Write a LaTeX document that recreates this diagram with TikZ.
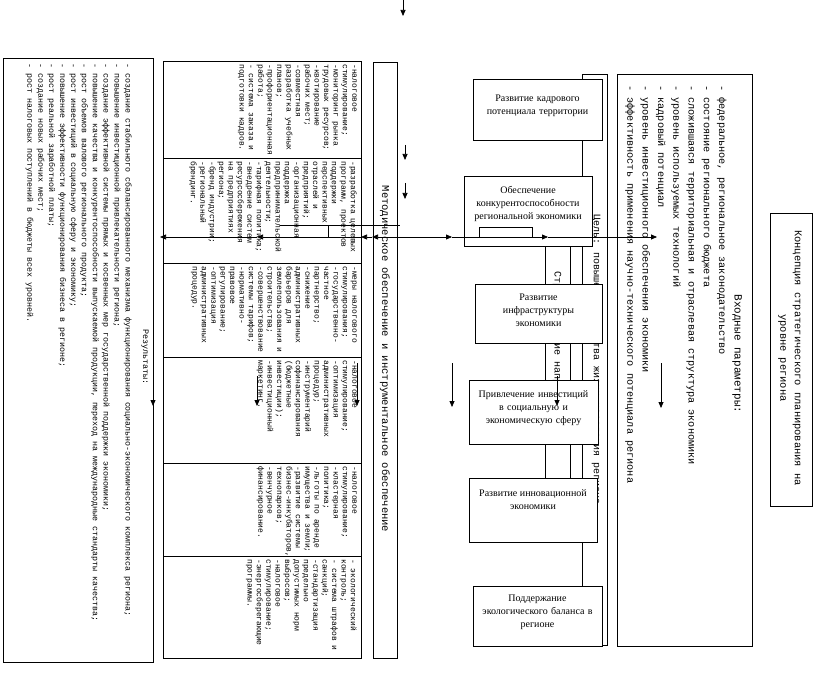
\documentclass[tikz,border=0pt]{standalone}
\usepackage{fontspec}
\setmainfont{Liberation Serif}
\newfontfamily\monof{Liberation Mono}
\usetikzlibrary{arrows.meta,fit}
\begin{document}
\begin{tikzpicture}[x=1pt,y=-1pt,line width=0.75pt,
 frame/.style={draw,fill=white,inner sep=0pt},
 btxt/.style={align=center,inner sep=0pt,font=\fontsize{10}{13}\selectfont},
 vt/.style={rotate=-90,inner sep=0pt},
 lst/.style={rotate=-90,anchor=north west,align=left,inner sep=0pt},
 cell/.style={lst,font=\monof\fontsize{8}{9.4}\selectfont},
 arr/.style={-{Triangle[length=6pt,width=5pt]}},
]
\fill[white] (0,0) rectangle (813,676);
\useasboundingbox (0,0) rectangle (813,676);

% Concept
\node[frame,fit={(770,213)(812,506)}] (concept) {};
\node[vt,align=center,font=\monof\fontsize{10.4}{14.5}\selectfont] (conctxt) at (790,358)
 {Концепция стратегического планирования на\\уровне региона};

% Input parameters
\node[frame,fit={(617,74)(752,646)}] (inp) {};
\node[vt,font=\monof\fontsize{11}{13}\selectfont] (inptitle) at (737,354) {Входные параметры:};
\node[lst,font=\monof\fontsize{10.2}{15.3}\selectfont] (inplist) at (727,85)
 {- федеральное, региональное законодательство\\
  - состояние регионального бюджета\\
  - сложившаяся территориальная и отраслевая структура экономики\\
  - уровень используемых технологий\\
  - кадровый потенциал\\
  - уровень инвестиционного обеспечения экономики\\
  - эффективность применения научно-технического потенциала региона};

% Goal strip
\node[frame,fit={(582,74)(607,645)}] (goal) {};
\node[vt,font=\monof\fontsize{10}{12}\selectfont] (goaltxt) at (596,360)
 {Цель: повышение качества жизни населения региона};

% Strategic directions strip
\node[frame,fit={(545,200)(570,505)}] (strat) {};
\node[vt,font=\monof\fontsize{10}{12}\selectfont] (strattxt) at (557,350)
 {Стратегические направления};

% Blocks
\node[frame,fit={(473,79)(602,140)},btxt] (kadr) {Развитие кадрового\\потенциала территории};
\node[frame,fit={(464,176)(592,246)}] (obesp) {};
\node[btxt,anchor=north] (obesptxt) at (528,186) {Обеспечение\\конкурентоспособности\\региональной экономики};
\node[frame,fit={(475,284)(602,343)},btxt] (infra) {Развитие\\инфраструктуры\\экономики};
\node[frame,fit={(469,380)(598,444)},btxt] (invest) {Привлечение инвестиций\\в социальную и\\экономическую сферу};
\node[frame,fit={(469,478)(597,542)}] (innov) {};
\node[btxt,anchor=north] (innovtxt) at (533,489) {Развитие инновационной\\экономики};
\node[frame,fit={(473,586)(602,646)},btxt] (ecol) {Поддержание\\экологического баланса в\\регионе};

% Methodological support
\node[frame,fit={(373,62)(397,658)}] (meth) {};
\node[vt,font=\monof\fontsize{10.5}{12}\selectfont] (methtxt) at (385,359)
 {Методическое обеспечение и инструментальное обеспечение};

% Measures table
\node[frame,fit={(163,61)(361,158)}] (c1) {};
\node[frame,fit={(163,158)(361,263)}] (c2) {};
\node[frame,fit={(163,263)(361,357)}] (c3) {};
\node[frame,fit={(163,357)(361,463)}] (c4) {};
\node[frame,fit={(163,463)(361,556)}] (c5) {};
\node[frame,fit={(163,556)(361,658)}] (c6) {};
\node[cell] (t1) at (357,64) {-налоговое\\стимулирование;\\-мониторинг рынка\\трудовых ресурсов;\\-квотирование\\рабочих мест;\\-совместная\\разработка учебных\\планов;\\-профориентационная\\работа;\\- система заказа и\\подготовки кадров.};
\node[cell] (t2) at (357,161) {-разработка целевых\\программ, проектов\\поддержки\\перспективных\\отраслей и\\предприятий;\\-организационная\\поддержка\\предпринимательской\\деятельности;\\-тарифная политика;\\-внедрение систем\\ресурсосбережения\\на предприятиях\\региона;\\-бренд индустрии;\\-региональный\\брендинг.};
\node[cell] (t3) at (357,266) {-меры налогового\\стимулирования;\\-государственно-\\частное\\партнерство;\\-снижение\\административных\\барьеров для\\землепользования и\\строительства;\\-совершенствование\\системы тарифов;\\-нормативно-\\правовое\\регулирование;\\-оптимизация\\административных\\процедур.};
\node[cell] (t4) at (357,360) {-налоговое\\стимулирование;\\-оптимизация\\административных\\процедур;\\-инструментарий\\софинансирования\\(бюджетные\\инвестиции);\\-инвестиционный\\маркетинг.};
\node[cell] (t5) at (357,466) {-налоговое\\стимулирование;\\-кластерная\\политика;\\-льготы по аренде\\имущества и земли;\\-развитие системы\\бизнес-инкубаторов,\\технопарков;\\-венчурное\\финансирование.};
\node[cell] (t6) at (357,559) {- экологический\\контроль;\\- система штрафов и\\санкций;\\-стандартизация\\предельно\\допустимых норм\\выбросов;\\-налоговое\\стимулирование;\\-энергосберегающие\\программы.};

% Results
\node[frame,fit={(3,58)(153,662)}] (res) {};
\node[vt,font=\monof\fontsize{8.4}{10}\selectfont] (restitle) at (145,357) {Результаты:};
\node[lst,font=\monof\fontsize{8.3}{10.9}\selectfont] (reslist) at (132,63)
 {- создание стабильного сбалансированного механизма функционирования социально-экономического комплекса региона;\\
  - повышение инвестиционной привлекательности региона;\\
  - создание эффективной системы прямых и косвенных мер государственной поддержки экономики;\\
  - повышение качества и конкурентоспособности выпускаемой продукции, переход на международные стандарты качества;\\
  - рост объемов валового регионального продукта;\\
  - рост инвестиций в социальную сферу и экономику;\\
  - повышение эффективности функционирования бизнеса в регионе;\\
  - рост реальной заработной платы;\\
  - создание новых рабочих мест;\\
  - рост налоговых поступлений в бюджеты всех уровней.};

% Arrows and lines
\coordinate (a0) at (403,0);   \coordinate (a1) at (403,16);
\coordinate (b0) at (405,145); \coordinate (b1) at (405,160);
\coordinate (c0) at (405,183); \coordinate (c1x) at (405,199);
\draw[arr] (a0) -- (a1);
\draw[arr] (b0) -- (b1);
\draw[arr] (c0) -- (c1x);

\coordinate (h160) at (160,237); \coordinate (h257) at (257,237);
\coordinate (h361) at (361,237); \coordinate (h372) at (372,237);
\coordinate (h420) at (420,237); \coordinate (h452) at (452,237);
\coordinate (h548) at (548,237); \coordinate (h657) at (657,237);
\draw[arr] (h257) -- (h160);
\draw[arr] (h361) -- (h257);
\draw[arr] (h420) -- (h372);
\draw[arr] (h372) -- (h361);
\draw[arr] (h420) -- (h452);
\draw[arr] (h452) -- (h548);
\draw[arr] (h548) -- (h657);
\coordinate (k1) at (479,237); \coordinate (k2) at (532,237);
\draw (k1) -- ++(0,-10) -| (k2);
\coordinate (m1) at (280,225); \coordinate (m2) at (400,225);
\coordinate (m3) at (328,225); \coordinate (m4) at (328,237);
\draw (m1) -- (m2);
\draw (m3) -- (m4);

\foreach \x/\ya/\yb [count=\i] in {153/372/406, 257/376/406, 357/363/406, 452/363/407, 557/376/406, 661/363/408}{
  \coordinate (d\i a) at (\x,\ya);
  \coordinate (d\i b) at (\x,\yb);
  \draw[arr] (d\i a) -- (d\i b);
}
\end{tikzpicture}
\end{document}
